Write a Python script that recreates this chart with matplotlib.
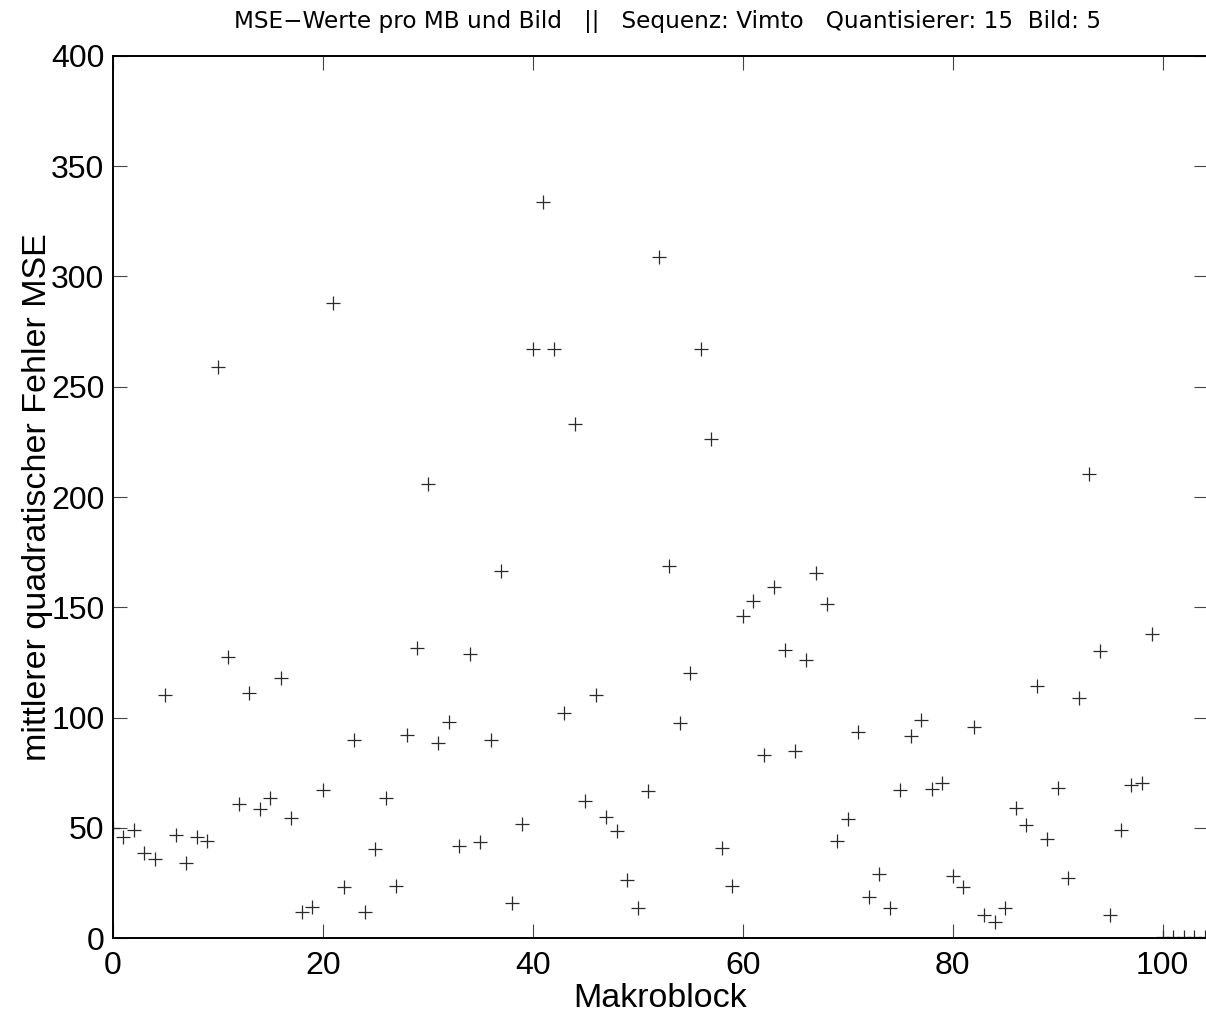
import numpy as np
import matplotlib
matplotlib.use("Agg")
import matplotlib.pyplot as plt

# MSE per macroblock
makroblock = np.arange(0, 105)
mse = [50, 46, 49, 38.6, 36, 110, 46.6, 34, 46, 44,
       259, 127.5, 61, 111.2, 58.4, 63.6, 118, 54.5, 11.7, 14.3,
       67, 288, 23, 90, 11.7, 40.5, 63.6, 23.5, 92.2, 131.7,
       206, 88.5, 98, 41.6, 128.6, 43.6, 89.6, 166.5, 16, 51.5,
       267, 334, 267, 102, 233, 62, 110, 55, 48.6, 26.5,
       13.5, 66.5, 309, 168.5, 97.4, 120, 267, 226.5, 40.8, 23.4,
       146, 152.7, 83, 159, 130.6, 85, 126, 165.7, 151.4, 44.2,
       53.8, 93.5, 18.7, 29.1, 13.5, 67, 91.7, 98.7, 67.5, 70.1,
       28, 23, 95.6, 10.4, 7.3, 13.5, 59, 51.4, 114.3, 44.7,
       68, 27.3, 109, 210.5, 130, 10.4, 48.8, 69.4, 70.1, 137.7,
       0.5, 0.5, 0.5, 0.5, 0.5]

x_ticks = [0, 20, 40, 60, 80, 100]
y_ticks = [0, 50, 100, 150, 200, 250, 300, 350, 400]

titel = "MSE\u2212Werte pro MB und Bild   ||   Sequenz: Vimto   Quantisierer: 15  Bild: 5"

plt.rcParams['font.family'] = ['Liberation Sans', 'DejaVu Sans']

fig = plt.figure(figsize=(12.06, 10.14), dpi=100)
ax = fig.add_axes([0.0935, 0.0749, 0.9080, 0.8699])

ax.plot(makroblock, mse, linestyle='none', marker='+', markersize=10,
        markeredgewidth=0.9, color='#2a2a2a', clip_on=True)

ax.set_xlim(0, 104.3)
ax.set_ylim(0, 400)
ax.set_xticks(x_ticks)
ax.set_yticks(y_ticks)
ax.tick_params(direction='in', length=10, width=0.8, color='#444444',
               labelsize=23, top=True, right=True)
ax.tick_params(axis='x', pad=9)
ax.tick_params(axis='y', pad=6)
for s in ax.spines.values():
    s.set_linewidth(1.4)

ax.set_xlabel('Makroblock', fontsize=24.5, labelpad=1.5)
ax.set_ylabel('mittlerer quadratischer Fehler MSE', fontsize=24.5, labelpad=-1.5)

fig.text(0.5535, 0.979, titel, ha='center', va='center', fontsize=16.7,
         family=['DejaVu Sans'])

fig.savefig('out.png', dpi=100)
